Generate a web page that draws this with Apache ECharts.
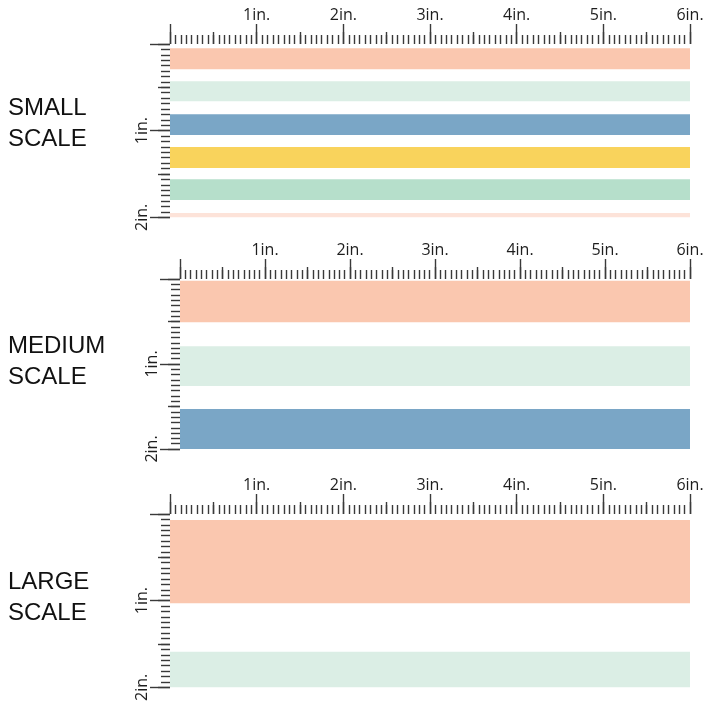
<!DOCTYPE html>
<html>
<head>
<meta charset="utf-8">
<script src="https://cdn.jsdelivr.net/npm/echarts@6/dist/echarts.min.js"></script>
<style>html,body{margin:0;padding:0;background:#fff}#c{width:720px;height:720px}</style>
</head>
<body>
<div id="c"></div>
<script>
// ---- data (inches) ----
const panelTitles = ['SMALL\nSCALE', 'MEDIUM\nSCALE', 'LARGE\nSCALE'];
const rulerWidthIn = 6;
const rulerHeightIn = 2;
// stripes: start / end along the vertical ruler (inches), and colour name
const smallStart = [0.05, 0.43, 0.81, 1.19, 1.56, 1.95];
const smallEnd   = [0.29, 0.66, 1.05, 1.43, 1.80, 2.00];
const smallColor = ['peach', 'mint', 'blue', 'yellow', 'sage', 'blush'];
const mediumStart = [0.02, 0.79, 1.53];
const mediumEnd   = [0.51, 1.26, 2.00];
const mediumColor = ['peach', 'mint', 'blue'];
const largeStart = [0.07, 1.59];
const largeEnd   = [1.03, 2.00];
const largeColor = ['peach', 'mint'];

// ---- styles ----
const palette = {
  peach: '#FAC7AF', mint: '#DBEEE5', blue: '#7AA6C6',
  yellow: '#F9D35C', sage: '#B6DFCB', blush: '#FDE3D9'
};
const grids = [
  {left: 170, top: 44, width: 520, height: 173.3},
  {left: 180, top: 279, width: 510, height: 170},
  {left: 170, top: 514, width: 520, height: 173.3}
];
const titleTops = [93, 331, 567];
const tickColor = '#3a3a3a';
const tickFont = {fontFamily: 'Open Sans', fontSize: 16, color: '#1e1e1e'};

const panels = [
  [smallStart, smallEnd, smallColor],
  [mediumStart, mediumEnd, mediumColor],
  [largeStart, largeEnd, largeColor]
];

const xAxis = [], yAxis = [], series = [];
const fmt = v => v === 0 ? '' : v + 'in.';
grids.forEach((g, i) => {
  xAxis.push({
    type: 'value', gridIndex: i, position: 'top', min: 0, max: rulerWidthIn, interval: 1,
    axisLine: {show: false}, splitLine: {show: false},
    axisTick: {show: true, length: 20, lineStyle: {color: tickColor, width: 1.4}},
    minorTick: {show: true, splitNumber: 16, length: 9, lineStyle: {color: tickColor, width: 1.4}},
    minorSplitLine: {show: false},
    axisLabel: Object.assign({show: true, margin: 21, formatter: fmt, showMinLabel: false}, tickFont)
  });
  xAxis.push({
    type: 'value', gridIndex: i, position: 'top', min: 0, max: rulerWidthIn, interval: 0.5,
    axisLine: {show: false}, splitLine: {show: false}, axisLabel: {show: false},
    axisTick: {show: true, length: 12, lineStyle: {color: tickColor, width: 1.4}}
  });
  yAxis.push({
    type: 'value', gridIndex: i, position: 'left', inverse: true, min: 0, max: rulerHeightIn, interval: 1,
    axisLine: {show: false}, splitLine: {show: false},
    axisTick: {show: true, length: 20, lineStyle: {color: tickColor, width: 1.4}},
    minorTick: {show: true, splitNumber: 16, length: 9, lineStyle: {color: tickColor, width: 1.4}},
    minorSplitLine: {show: false},
    axisLabel: Object.assign({show: true, margin: 20, rotate: 90, formatter: fmt, showMinLabel: false}, tickFont)
  });
  yAxis.push({
    type: 'value', gridIndex: i, position: 'left', inverse: true, min: 0, max: rulerHeightIn, interval: 0.5,
    axisLine: {show: false}, splitLine: {show: false}, axisLabel: {show: false},
    axisTick: {show: true, length: 12, lineStyle: {color: tickColor, width: 1.4}}
  });
  const [st, en, col] = panels[i];
  series.push({
    type: 'custom', xAxisIndex: i * 2, yAxisIndex: i * 2, silent: true,
    data: st.map((s, k) => [s, en[k], k]),
    encode: {x: -1, y: [0, 1]},
    renderItem: (params, api) => {
      const a = api.coord([0, api.value(0)]);
      const b = api.coord([rulerWidthIn, api.value(1)]);
      return {
        type: 'rect',
        shape: {x: a[0], y: a[1], width: b[0] - a[0], height: b[1] - a[1]},
        style: {fill: palette[col[api.value(2)]]}
      };
    }
  });
});

const chart = echarts.init(document.getElementById('c'), null, {renderer: 'canvas'});
chart.setOption({
  animation: false,
  backgroundColor: '#fff',
  grid: grids.map(g => Object.assign({containLabel: false}, g)),
  xAxis, yAxis, series,
  graphic: panelTitles.map((t, i) => ({
    type: 'text', left: 8, top: titleTops[i],
    style: {text: t, fontFamily: 'Liberation Sans', fontSize: 24, lineHeight: 31, fill: '#111'}
  }))
});
</script>
</body>
</html>
